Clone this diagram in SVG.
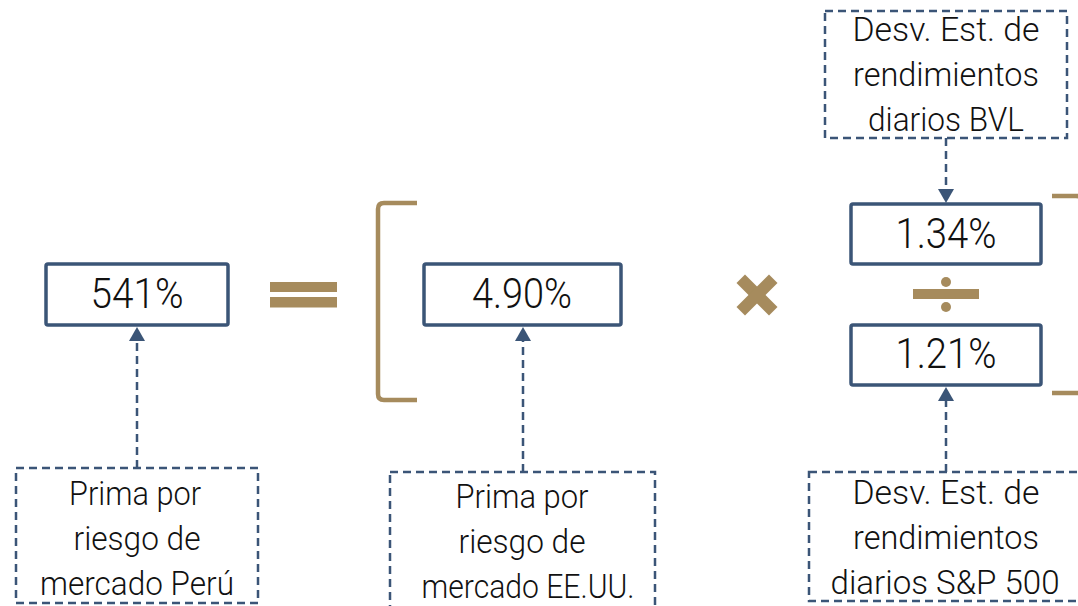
<svg xmlns="http://www.w3.org/2000/svg" width="1078" height="606" viewBox="0 0 1078 606">
<style>
.val{fill:none;stroke:#3B5577;stroke-width:3.5}
.dash{fill:none;stroke:#3B5577;stroke-width:2.5;stroke-dasharray:8 5}
.conn{fill:none;stroke:#3B5577;stroke-width:2.5;stroke-dasharray:8 5}
.gold{fill:#A68B5D}
.br{fill:none;stroke:#A68B5D;stroke-width:4.5}
.t{font-family:Roboto,"Liberation Sans",sans-serif;font-weight:300;fill:#111;text-anchor:middle;font-size:34px}
.v{font-family:Roboto,"Liberation Sans",sans-serif;font-weight:300;fill:#111;text-anchor:middle;font-size:42px}
</style>
<defs>
<marker id="ah" viewBox="0 0 14 16" markerWidth="14" markerHeight="16" refX="11" refY="8" orient="auto" markerUnits="userSpaceOnUse">
<path d="M0,0 L14,8 L0,16 z" fill="#3B5577"/>
</marker>
</defs>
<rect width="1078" height="606" fill="#fff"/>

<g id="connectors">
<line class="conn" x1="137" y1="468" x2="137" y2="330" marker-end="url(#ah)"/>
<line class="conn" x1="523" y1="472" x2="523" y2="330" marker-end="url(#ah)"/>
<line class="conn" x1="946" y1="138" x2="946" y2="200" marker-end="url(#ah)"/>
<line class="conn" x1="946" y1="472" x2="946" y2="390" marker-end="url(#ah)"/>
</g>

<g id="operators">
<rect class="gold" x="270" y="282" width="67" height="10"/>
<rect class="gold" x="270" y="297" width="67" height="10.5"/>
<path class="br" d="M417,203 L384,203 Q378,203 378,209 L378,394 Q378,400 384,400 L417,400"/>
<g transform="translate(757,295)">
<rect class="gold" x="-23" y="-6" width="46" height="12" transform="rotate(45)"/>
<rect class="gold" x="-23" y="-6" width="46" height="12" transform="rotate(-45)"/>
</g>
<rect class="gold" x="913" y="289" width="66" height="10"/>
<circle class="gold" cx="946" cy="282" r="5"/>
<circle class="gold" cx="946" cy="307" r="5"/>
<path class="br" d="M1052,196 L1076,196 Q1083,196 1083,203 L1083,386 Q1083,393 1076,393 L1052,393"/>
</g>

<g id="node-peru-value">
<rect class="val" x="46" y="264" width="182" height="61" rx="2"/>
<text class="v" x="137" y="308" textLength="93" lengthAdjust="spacingAndGlyphs">541%</text>
</g>

<g id="node-usa-value">
<rect class="val" x="424" y="264" width="197" height="61" rx="2"/>
<text class="v" x="522" y="308" textLength="100" lengthAdjust="spacingAndGlyphs">4.90%</text>
</g>

<g id="node-bvl-value">
<rect class="val" x="851" y="204" width="190" height="60" rx="2"/>
<text class="v" x="946" y="248" textLength="101" lengthAdjust="spacingAndGlyphs">1.34%</text>
</g>

<g id="node-sp-value">
<rect class="val" x="851" y="325" width="190" height="60" rx="2"/>
<text class="v" x="946" y="368" textLength="101" lengthAdjust="spacingAndGlyphs">1.21%</text>
</g>

<g id="node-bvl-desc">
<rect class="dash" x="825" y="11" width="242" height="127"/>
<text class="t" x="946" y="41" textLength="187" lengthAdjust="spacingAndGlyphs">Desv. Est. de</text>
<text class="t" x="946" y="86" textLength="186" lengthAdjust="spacingAndGlyphs">rendimientos</text>
<text class="t" x="946" y="131" textLength="156" lengthAdjust="spacingAndGlyphs">diarios BVL</text>
</g>

<g id="node-sp-desc">
<rect class="dash" x="809" y="472" width="290" height="129"/>
<text class="t" x="946" y="504" textLength="187" lengthAdjust="spacingAndGlyphs">Desv. Est. de</text>
<text class="t" x="946" y="549" textLength="186" lengthAdjust="spacingAndGlyphs">rendimientos</text>
<text class="t" x="945" y="594" textLength="229" lengthAdjust="spacingAndGlyphs">diarios S&amp;P 500</text>
</g>

<g id="node-peru-desc">
<rect class="dash" x="16" y="468" width="242" height="135"/>
<text class="t" x="135" y="505" textLength="132" lengthAdjust="spacingAndGlyphs">Prima por</text>
<text class="t" x="137" y="550" textLength="127" lengthAdjust="spacingAndGlyphs">riesgo de</text>
<text class="t" x="137" y="595" textLength="194" lengthAdjust="spacingAndGlyphs">mercado Perú</text>
</g>

<g id="node-usa-desc">
<rect class="dash" x="390" y="472" width="265" height="150"/>
<text class="t" x="522" y="508" textLength="133" lengthAdjust="spacingAndGlyphs">Prima por</text>
<text class="t" x="522" y="553" textLength="127" lengthAdjust="spacingAndGlyphs">riesgo de</text>
<text class="t" x="528" y="598" textLength="213" lengthAdjust="spacingAndGlyphs">mercado EE.UU.</text>
</g>
</svg>
